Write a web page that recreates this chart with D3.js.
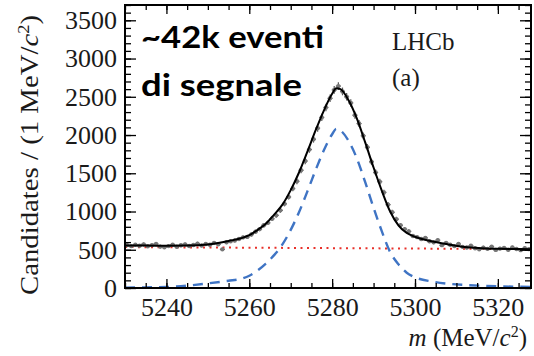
<!DOCTYPE html>
<meta charset="utf-8">
<style>
body { margin:0; background:#fff; }
.serif { font-family:"Liberation Serif", serif; fill:#1a1a1a; }
.note { font-family:Lato, sans-serif; font-weight:700; fill:#000; }
</style>
<body>
<script src="https://d3js.org/d3.v7.min.js"></script>
<script>

// tick labels
var massTicks = [5240, 5260, 5280, 5300, 5320];
var countTicks = [0, 500, 1000, 1500, 2000, 2500, 3000, 3500];

// data: candidates per 1 MeV bin, first bin starts at 5230
var binLow = 5230;
var counts = [
  560,548,566,552,571,545,560,575,541,532,
  548,566,540,558,570,549,562,580,556,575,
  566,590,572,505,598,612,622,640,662,668,
  700,735,770,820,852,905,950,1015,1100,1190,
  1300,1395,1540,1660,1810,1945,2090,2230,2360,2480,
  2590,2640,2570,2500,2420,2260,2150,1990,1840,1650,
  1510,1390,1250,1090,990,900,820,770,740,680,
  665,640,655,612,598,625,560,590,565,548,
  575,538,530,552,520,505,528,512,540,498,
  515,525,500,530,510,495,520,508
];

// fit curves
var fitMass   = [5230,5235,5240,5245,5250,5255,5258,5260,5262,5264,5266,5268,5270,5272,5274,5276,5278,5280,5281,5282,5284,5286,5288,5290,5292,5294,5296,5298,5300,5304,5308,5312,5316,5320,5328];
var fitTotal  = [555,555,553,555,570,615,650,690,760,840,960,1090,1280,1510,1780,2060,2320,2540,2610,2600,2450,2210,1900,1575,1270,1000,820,720,670,610,570,535,520,512,508];
var fitSignal = [5,8,13,30,60,95,120,160,230,320,430,570,760,990,1260,1540,1800,2010,2080,2060,1920,1690,1380,1050,740,470,310,200,140,85,55,40,30,22,15];
var bkgMass   = [5230, 5328];
var bkgValue  = [535, 508];

var W = 534, H = 356;
var m = {left:125, top:5, right:3, bottom:68};
var w = W - m.left - m.right, h = H - m.top - m.bottom;

var svg = d3.select("body").append("svg").attr("width", W).attr("height", H);
var g = svg.append("g").attr("transform", "translate(" + m.left + "," + m.top + ")");

var x = d3.scaleLinear().domain([5230, 5328]).range([0, w]);
var y = d3.scaleLinear().domain([0, 3700]).range([h, 0]);

svg.append("defs").append("clipPath").attr("id", "clip")
  .append("rect").attr("width", w).attr("height", h);

var plot = g.append("g").attr("clip-path", "url(#clip)");

// background (red dotted)
plot.append("path")
  .datum(bkgMass.map((d, i) => [d, bkgValue[i]]))
  .attr("fill", "none").attr("stroke", "#e8302a").attr("stroke-width", 2)
  .attr("stroke-dasharray", "2,4.5")
  .attr("d", d3.line().x(d => x(d[0])).y(d => y(d[1])));

// signal (blue dashed)
plot.append("path")
  .datum(fitMass.map((d, i) => [d, fitSignal[i]]))
  .attr("fill", "none").attr("stroke", "#3f74c4").attr("stroke-width", 2.4)
  .attr("stroke-dasharray", "10,7")
  .attr("d", d3.line().curve(d3.curveMonotoneX).x(d => x(d[0])).y(d => y(d[1])));

// data points with errors
var half = x(binLow + 0.6) - x(binLow);
var pts = plot.append("g").selectAll("g").data(counts).join("g")
  .attr("transform", (d, i) => "translate(" + x(binLow + i + 0.5) + ",0)");
pts.append("line")
  .attr("y1", d => y(d - Math.sqrt(d))).attr("y2", d => y(d + Math.sqrt(d)))
  .attr("stroke", "#555").attr("stroke-width", 1.2);
pts.append("line")
  .attr("x1", -half).attr("x2", half)
  .attr("y1", d => y(d)).attr("y2", d => y(d))
  .attr("stroke", "#555").attr("stroke-width", 1.2);
pts.append("circle").attr("cy", d => y(d)).attr("r", 2.2).attr("fill", "#777");

// total fit (black)
plot.append("path")
  .datum(fitMass.map((d, i) => [d, fitTotal[i]]))
  .attr("fill", "none").attr("stroke", "#000").attr("stroke-width", 2)
  .attr("d", d3.line().curve(d3.curveMonotoneX).x(d => x(d[0])).y(d => y(d[1])));

// axes, ticks pointing inward on all sides
var xMinor = d3.range(5230, 5329, 5), yMinor = d3.range(0, 3701, 100);
function axisStyle(sel) {
  sel.select(".domain").remove();
  sel.selectAll("line").attr("stroke", "#000").attr("stroke-width", 1.3);
  sel.selectAll("text").attr("class", "serif").style("font-size", "26px");
}
g.append("g").attr("transform", "translate(0," + h + ")")
  .call(d3.axisBottom(x).tickValues(xMinor).tickSize(-5).tickFormat("")).call(axisStyle);
g.append("g").attr("transform", "translate(0," + h + ")")
  .call(d3.axisBottom(x).tickValues(massTicks).tickSize(-9).tickPadding(10).tickFormat(d3.format("d"))).call(axisStyle);
g.append("g")
  .call(d3.axisTop(x).tickValues(xMinor).tickSize(-5).tickFormat("")).call(axisStyle);
g.append("g")
  .call(d3.axisTop(x).tickValues(massTicks).tickSize(-9).tickFormat("")).call(axisStyle);
g.append("g")
  .call(d3.axisLeft(y).tickValues(yMinor).tickSize(-6).tickFormat("")).call(axisStyle);
g.append("g")
  .call(d3.axisLeft(y).tickValues(countTicks).tickSize(-11).tickPadding(8).tickFormat(d3.format("d"))).call(axisStyle);
g.append("g").attr("transform", "translate(" + w + ",0)")
  .call(d3.axisRight(y).tickValues(yMinor).tickSize(-6).tickFormat("")).call(axisStyle);
g.append("g").attr("transform", "translate(" + w + ",0)")
  .call(d3.axisRight(y).tickValues(countTicks).tickSize(-11).tickFormat("")).call(axisStyle);

g.append("rect").attr("width", w).attr("height", h)
  .attr("fill", "none").attr("stroke", "#000").attr("stroke-width", 2);

// axis titles
var yt = svg.append("text").attr("class", "serif")
  .attr("transform", "translate(38,155) rotate(-90)")
  .attr("text-anchor", "middle").style("font-size", "25px")
  .attr("textLength", 280).attr("lengthAdjust", "spacingAndGlyphs");
yt.append("tspan").text("Candidates / (1 MeV/");
yt.append("tspan").style("font-style", "italic").text("c");
yt.append("tspan").attr("dy", -9).style("font-size", "16px").text("2");
yt.append("tspan").attr("dy", 9).text(")");

var xt = svg.append("text").attr("class", "serif")
  .attr("x", 527).attr("y", 346).attr("text-anchor", "end").style("font-size", "25px");
xt.append("tspan").style("font-style", "italic").text("m");
xt.append("tspan").text(" (MeV/");
xt.append("tspan").style("font-style", "italic").text("c");
xt.append("tspan").attr("dy", -9).style("font-size", "16px").text("2");
xt.append("tspan").attr("dy", 9).text(")");

// labels inside the frame
svg.append("text").attr("class", "serif").attr("x", 392).attr("y", 50)
  .style("font-size", "25px").text("LHCb");
svg.append("text").attr("class", "serif").attr("x", 392).attr("y", 86)
  .style("font-size", "25px").text("(a)");

svg.append("text").attr("class", "note").attr("x", 141).attr("y", 48)
  .style("font-size", "30px").attr("textLength", 183).attr("lengthAdjust", "spacingAndGlyphs")
  .text("~42k eventi");
svg.append("text").attr("class", "note").attr("x", 141).attr("y", 96)
  .style("font-size", "30px").attr("textLength", 161).attr("lengthAdjust", "spacingAndGlyphs")
  .text("di segnale");

</script>
</body>
